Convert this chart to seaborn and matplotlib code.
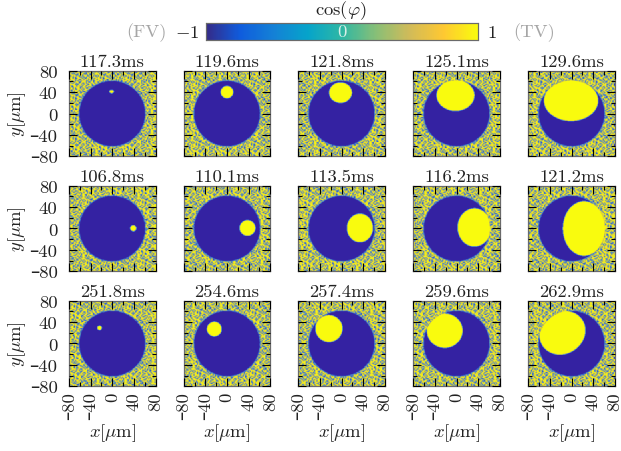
import numpy as np
import pandas as pd
import seaborn as sns
import matplotlib
matplotlib.use("Agg")
import matplotlib.pyplot as plt
from matplotlib.colors import LinearSegmentedColormap

# Panel times (ms), top to bottom
times_row1 = ["117.3ms", "119.6ms", "121.8ms", "125.1ms", "129.6ms"]
times_row2 = ["106.8ms", "110.1ms", "113.5ms", "116.2ms", "121.2ms"]
times_row3 = ["251.8ms", "254.6ms", "257.4ms", "259.6ms", "262.9ms"]

# TV bubble: centre x, centre y, half-width, half-height, tilt (um, um, um, um, deg)
bubbles_row1 = [(-1, 41, 4, 3, 0), (0, 40, 11.5, 11.5, 0), (-2, 39, 21, 19, 0), (-2, 34, 35, 29, 0), (-1, 24, 50, 38, 0)]
bubbles_row2 = [(39, 0.5, 5.5, 5.5, 0), (38, 1, 14.5, 14.5, 0), (34, 1, 24, 26.5, 0), (33, 2, 31, 35.5, 0), (23, 0, 39, 51, 0)]
bubbles_row3 = [(-23.5, 29, 4, 4, 0), (-23.5, 27, 13.5, 13.5, 0), (-23.5, 28, 25, 25, 0), (-22, 24, 33, 32, 0), (-17, 20, 44, 39, 35)]

disk_radius = 61.0
tick_major = [-80, -40, 0, 40, 80]
tick_minor = [-60, -20, 20, 60]
tick_labels = ["\u201380", "\u201340", "0", "40", "80"]

# Speckle of the surrounding field, typed as a repeating swatch (0 = -1, 9 = +1)
speckle_tile = [
    "97290984917302989719048",
    "82918379920985172990937",
    "99140972869913098248199",
    "38979102997294819037928",
    "90958938149079923989180",
    "29708199632908197290997",
    "79819028997190386992719",
    "18997379108929790918398",
    "99269190973899128709029",
    "40981799208979390299178",
    "97309829179049179839909",
    "89998140993928920971892",
    "19279909678199079980379",
    "98039787920992981369997",
    "09919298909379108929188",
    "79839019983908997192909",
    "92097989179199620989739",
]
bar_colours = ["#352A87", "#0F5CDD", "#1481D6", "#06A4CA", "#2EB7A4", "#87BF77", "#D1BB59", "#FEC832", "#F9FB0E"]
field_colours = ["#3422A2", "#3A62C4", "#5B8DB4", "#8BA78C", "#B6BB58", "#E4DC30", "#F9FB0E"]

sns.set_theme(style="white")
plt.rcParams["font.family"] = ["cmr10", "DejaVu Sans"]
plt.rcParams["mathtext.fontset"] = "cm"
plt.rcParams["axes.unicode_minus"] = False
plt.rcParams["axes.formatter.use_mathtext"] = True
FS = 13.4
INK = "#222222"

bar_cmap = LinearSegmentedColormap.from_list("parula_like", bar_colours, N=256)
field_cmap = LinearSegmentedColormap.from_list("field_mix", field_colours, N=256)
tile = np.array([[int(c) for c in row] for row in speckle_tile]) / 4.5 - 1.0

W, H = 621, 452
N = 72      # speckle cells per side
K = 3       # sub-cells per speckle cell
M = N * K
edges = np.linspace(-80, 80, M + 1)
centres = (edges[:-1] + edges[1:]) / 2
soft = np.array([1, 2, 3, 2, 1]) / 9


def blur(z):
    z = np.apply_along_axis(lambda a: np.convolve(np.pad(a, 2, mode="edge"), soft, mode="valid"), 0, z)
    return np.apply_along_axis(lambda a: np.convolve(np.pad(a, 2, mode="edge"), soft, mode="valid"), 1, z)


def field(bubble, shift):
    xx, yy = np.meshgrid(centres, centres[::-1])
    cx, cy, rx, ry, tilt = bubble
    reps = (N // tile.shape[0] + 2, N // tile.shape[1] + 2)
    noise = np.roll(np.tile(tile, reps), (shift * 5, shift * 7), axis=(0, 1))[:N, :N]
    noise = np.kron(noise, np.ones((K, K)))
    rr = np.hypot(xx, yy)
    z = noise.copy()
    rim = rr < disk_radius + 1.6
    z[rim] = np.clip(noise[rim], -0.7, -0.2)
    inner = rr < disk_radius
    z[inner] = -1.0
    t = np.deg2rad(tilt)
    u = (xx - cx) * np.cos(t) + (yy - cy) * np.sin(t)
    v = -(xx - cx) * np.sin(t) + (yy - cy) * np.cos(t)
    z[((u / rx) ** 2 + (v / ry) ** 2 <= 1) & (rr <= disk_radius + 1)] = 1.0
    return pd.DataFrame(blur(z), index=centres[::-1], columns=centres)


def to_cell(v):
    return (np.asarray(v) + 80) / 160 * M


fig = plt.figure(figsize=(W / 100, H / 100), dpi=100, facecolor="white")
lefts = [69, 183.7, 298.3, 413.3, 528.3]
tops = [71.7, 186.7, 301.7]
size_w, size_h = 86.5, 85.6

rows = [(times_row1, bubbles_row1), (times_row2, bubbles_row2), (times_row3, bubbles_row3)]
for r, (times, bubbles) in enumerate(rows):
    for c, (label, bubble) in enumerate(zip(times, bubbles)):
        ax = fig.add_axes([lefts[c] / W, 1 - (tops[r] + size_h) / H, size_w / W, size_h / H])
        sns.heatmap(field(bubble, r * 5 + c), ax=ax, cmap=field_cmap, vmin=-1, vmax=1, cbar=False,
                    xticklabels=False, yticklabels=False, rasterized=True)
        ax.set_axisbelow(False)
        ax.set_xlabel("")
        ax.set_ylabel("")
        ax.set_xticks(to_cell(tick_major))
        ax.set_xticks(to_cell(tick_minor), minor=True)
        ax.set_yticks(to_cell(tick_major))
        ax.set_yticks(to_cell(tick_minor), minor=True)
        ax.set_xticklabels(tick_labels if r == 2 else [""] * 5, rotation=90, fontsize=FS)
        # heatmap's y axis runs downward, so labels are reversed
        ax.set_yticklabels(tick_labels[::-1] if c == 0 else [""] * 5, rotation=0, fontsize=FS)
        ax.tick_params(which="major", direction="in", length=5.8, width=0.8, color="black",
                       top=True, right=True, bottom=True, left=True)
        ax.tick_params(which="minor", direction="in", length=2.9, width=0.8, color="black",
                       top=True, right=True, bottom=True, left=True)
        ax.tick_params(axis="y", which="major", pad=8.2, labelcolor=INK)
        ax.tick_params(axis="x", which="major", pad=3.6, labelcolor=INK)
        for s in ax.spines.values():
            s.set_visible(True)
            s.set_color("#6a6a6a")
            s.set_linewidth(0.9)
        ax.set_title(label, fontsize=FS, pad=3.2, color=INK)
        if r == 2:
            ax.set_xlabel(r"$x[\mu\mathrm{m}]$", fontsize=FS, color=INK)
            ax.xaxis.set_label_coords(0.5, -0.54)
            ax.xaxis.label.set_verticalalignment("center")
        if c == 0:
            ax.set_ylabel(r"$y[\mu\mathrm{m}]$", fontsize=FS, color=INK)
            ax.yaxis.set_label_coords(-0.6, 0.5)
            ax.yaxis.label.set_verticalalignment("center")

# Colour bar
cax = fig.add_axes([205.7 / W, 1 - 41 / H, 272 / W, 17 / H])
dummy = fig.add_axes([0, 0, 0.001, 0.001])
sns.heatmap(pd.DataFrame([[-1, 1]]), ax=dummy, cmap=bar_cmap, vmin=-1, vmax=1, cbar_ax=cax,
            cbar_kws={"orientation": "horizontal"})
dummy.set_visible(False)
cax.set_xticks([])
cax.tick_params(length=0)
for s in cax.spines.values():
    s.set_visible(True)
    s.set_color("#6a6a6a")
    s.set_linewidth(0.8)


def ftext(x, y, s, **kw):
    fig.text(x / W, 1 - y / H, s, ha="center", va="center", fontsize=FS, **kw)


ftext(341, 11, r"$\cos(\varphi)$", color=INK)
ftext(187, 33, r"$-1$", color=INK)
ftext(492, 33, "1", color=INK)
ftext(146, 32.5, "(FV)", color="#a6a6a6")
ftext(534, 32.5, "(TV)", color="#a6a6a6")
ftext(341.5, 32.5, "0", color="#d8efe8")

fig.savefig("out.png", dpi=100, facecolor="white")
